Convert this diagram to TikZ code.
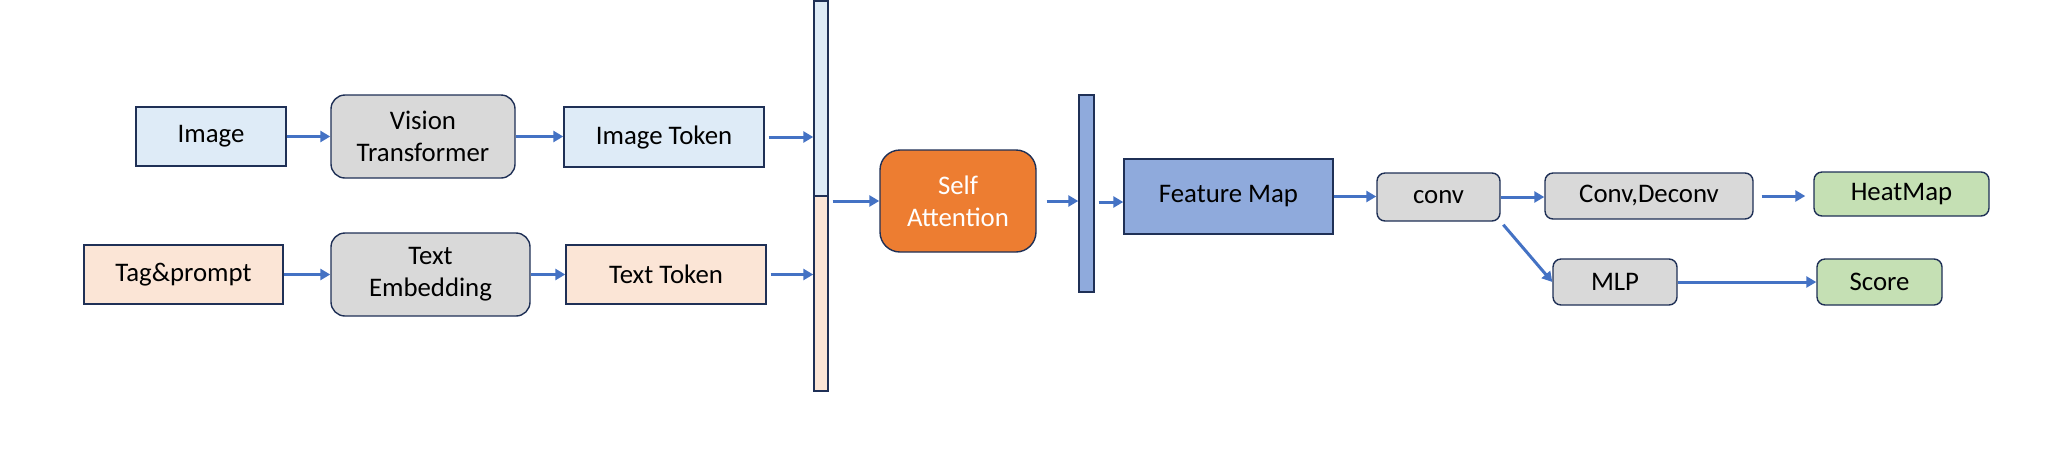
\documentclass[tikz,border=0pt]{standalone}
\usepackage{fontspec}
\setmainfont{Carlito}
\usetikzlibrary{arrows.meta}
\definecolor{edgec}{HTML}{1F3056}
\definecolor{arrc}{HTML}{4472C4}
\definecolor{lblue}{HTML}{DEEBF7}
\definecolor{lorange}{HTML}{FBE5D6}
\definecolor{lgray}{HTML}{D9D9D9}
\definecolor{dorange}{HTML}{ED7D31}
\definecolor{mblue}{HTML}{8FAADC}
\definecolor{lgreen}{HTML}{C5E0B4}
\tikzset{
  base/.style={draw=edgec, line width=0.7pt, inner sep=0pt, align=center, font=\fontsize{13.4}{16}\selectfont},
  sqbox/.style={base},
  rbox/.style={base, rounded corners=7pt},
  sbox/.style={base, rounded corners=4pt},
  arr/.style={draw=arrc, line width=1.5pt, -{Triangle[length=5pt,width=5.5pt]}},
}
\begin{document}
\begin{tikzpicture}[x=0.5pt,y=-0.5pt]
\useasboundingbox (0,0) rectangle (2052,468);
% left branch
\node[sqbox, fill=lblue, minimum width=75pt, minimum height=29.5pt] (img) at (211,136.5) {Image};
\node[rbox, fill=lgray, minimum width=92pt, minimum height=41.5pt] (vt) at (423,136.5) {Vision\\Transformer};
\node[sqbox, fill=lblue, minimum width=100pt, minimum height=30pt] (itok) at (664,137) {Image Token};
\node[sqbox, fill=lorange, minimum width=99.5pt, minimum height=29.5pt] (tp) at (183.5,274.5) {Tag\&prompt};
\node[rbox, fill=lgray, minimum width=99.5pt, minimum height=41.5pt] (te) at (430.5,274.5) {Text\\Embedding};
\node[sqbox, fill=lorange, minimum width=100pt, minimum height=29.5pt] (ttok) at (666,274.5) {Text Token};
% token bar
\node[sqbox, fill=lblue, minimum width=7pt, minimum height=97.5pt] (bara) at (821,98.5) {};
\node[sqbox, fill=lorange, minimum width=7pt, minimum height=97.5pt] (barb) at (821,293.5) {};
% middle
\node[base, rounded corners=10pt, fill=dorange, text=white, minimum width=78pt, minimum height=51pt] (sa) at (958,201) {Self\\Attention};
\node[sqbox, fill=mblue, minimum width=7.5pt, minimum height=98.5pt] (bar2) at (1086.5,193.5) {};
\node[sqbox, fill=mblue, minimum width=104.5pt, minimum height=37.5pt] (fm) at (1228.5,196.5) {Feature Map};
% right
\node[sbox, fill=lgray, minimum width=61.5pt, minimum height=24pt] (conv) at (1438.5,197) {conv};
\node[sbox, fill=lgray, minimum width=104pt, minimum height=23pt] (cd) at (1649,196) {Conv,Deconv};
\node[sbox, fill=lgreen, minimum width=87.5pt, minimum height=22pt] (hm) at (1901.5,194) {HeatMap};
\node[sbox, fill=lgray, minimum width=62pt, minimum height=23pt] (mlp) at (1615,282) {MLP};
\node[sbox, fill=lgreen, minimum width=62.5pt, minimum height=23pt] (score) at (1879.5,282) {Score};
% connectors
\draw[arr] (img.east) -- (vt.west |- img.east);
\draw[arr] (vt.east) -- (itok.west |- vt.east);
\draw[arr, shorten <=2pt] (itok.east) -- (bara.west |- itok.east);
\draw[arr] (tp.east) -- (te.west |- tp.east);
\draw[arr] (te.east) -- (ttok.west |- te.east);
\draw[arr, shorten <=2pt] (ttok.east) -- (barb.west |- ttok.east);
\draw[arr, shorten <=2pt] (barb.east |- sa.west) -- (sa.west);
\draw[arr, shorten <=5pt] (sa.east) -- (bar2.west |- sa.east);
\draw[arr, shorten <=2pt] ([yshift=-2.75pt]bar2.east |- fm.west) -- ([yshift=-2.75pt]fm.west);
\draw[arr] (fm.east) -- (conv.west |- fm.east);
\draw[arr] (conv.east) -- (cd.west |- conv.east);
\draw[arr, shorten <=4pt, shorten >=4pt] (cd.east) -- (hm.west |- cd.east);
\draw[arr, shorten <=2pt] (conv.south east) -- (mlp.west);
\draw[arr] (mlp.east) -- (score.west);
\end{tikzpicture}
\end{document}
